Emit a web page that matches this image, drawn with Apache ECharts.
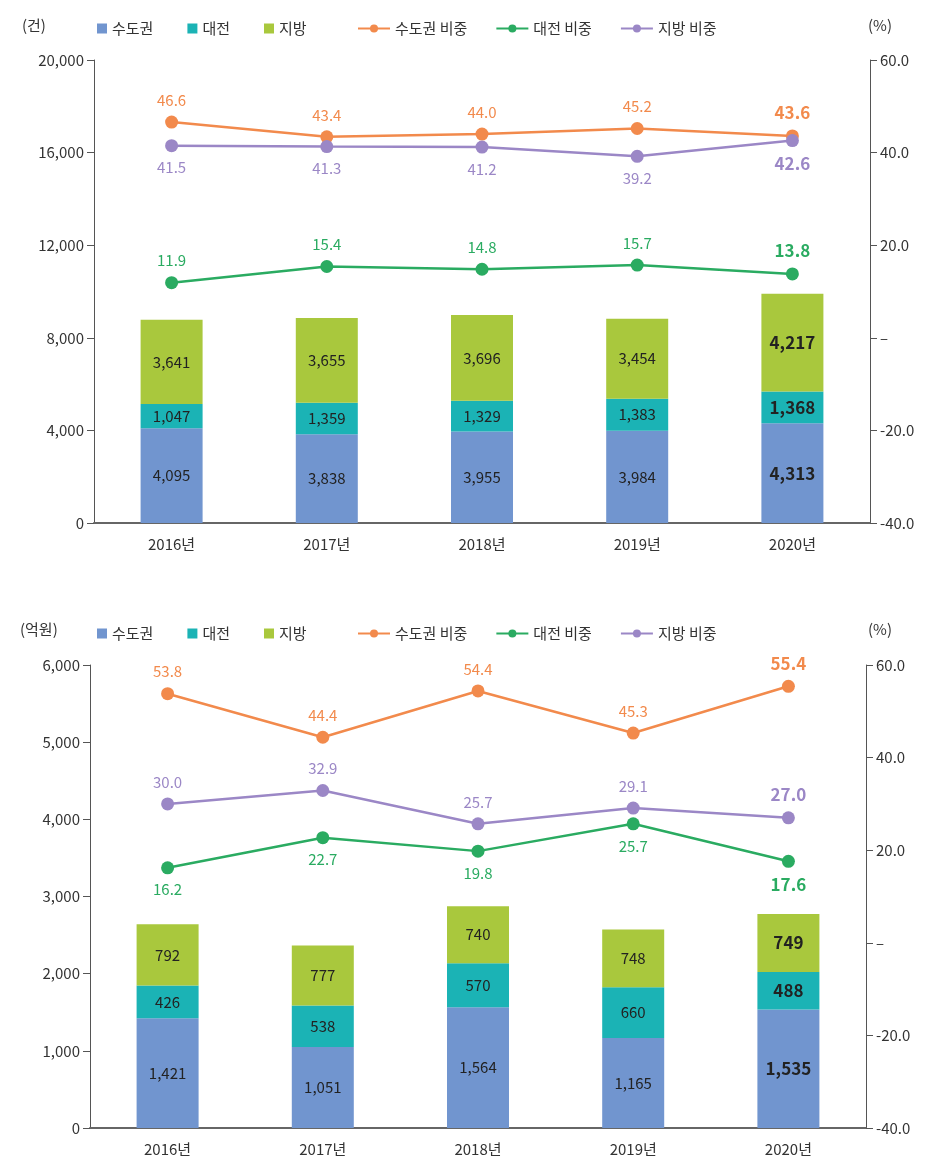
<!DOCTYPE html>
<html><head><meta charset="utf-8">
<script src="https://cdn.jsdelivr.net/npm/echarts@6/dist/echarts.min.js"></script>
<style>html,body{margin:0;padding:0;background:#fff}#c1,#c2{width:945px;height:585px}</style>
</head><body><div id="c1"></div><div id="c2"></div>
<script>
const categories = ['2016년','2017년','2018년','2019년','2020년'];
// Chart 1 (건)
const top_capital = [4095, 3838, 3955, 3984, 4313];
const top_daejeon = [1047, 1359, 1329, 1383, 1368];
const top_region = [3641, 3655, 3696, 3454, 4217];
const top_capitalShare = [46.6, 43.4, 44.0, 45.2, 43.6];
const top_daejeonShare = [11.9, 15.4, 14.8, 15.7, 13.8];
const top_regionShare = [41.5, 41.3, 41.2, 39.2, 42.6];
// Chart 2 (억원)
const bot_capital = [1421, 1051, 1564, 1165, 1535];
const bot_daejeon = [426, 538, 570, 660, 488];
const bot_region = [792, 777, 740, 748, 749];
const bot_capitalShare = [53.8, 44.4, 54.4, 45.3, 55.4];
const bot_daejeonShare = [16.2, 22.7, 19.8, 25.7, 17.6];
const bot_regionShare = [30.0, 32.9, 25.7, 29.1, 27.0];

const FONT = '"Noto Sans CJK KR", "Noto Sans", sans-serif';
const C_CAP = '#7195cf', C_DJ = '#1bb3b5', C_REG = '#a9c83d';
const L_CAP = '#f28a4c', L_DJ = '#2aab61', L_REG = '#9b87c6';

function barData(arr){
  return arr.map((v,i)=> i===4 ? {value:v, label:{fontWeight:'bold', fontSize:17}} : v);
}
function lineData(arr){
  return arr.map((v,i)=> i===4 ? {value:v, label:{fontWeight:'bold', fontSize:17}} : v);
}
function barSeries(name, arr, color){
  return {name, type:'bar', stack:'s', data:barData(arr), barWidth:62,
    itemStyle:{color},
    label:{show:true, position:'inside', color:'#222', fontSize:15, fontFamily:FONT,
      formatter:p=>p.value.toLocaleString('en-US')}};
}
function lineSeries(name, arr, color, pos){
  return {name, type:'line', yAxisIndex:1, data:lineData(arr), symbol:'circle', symbolSize:13,
    lineStyle:{color, width:2.5}, itemStyle:{color},
    label:{show:true, position:pos, distance:8, color, fontSize:15, fontFamily:FONT,
      formatter:p=>p.value.toFixed(1)}};
}
function build(cfg){
  return {
    animation:false,
    textStyle:{fontFamily:FONT},
    graphic:[
      {type:'text', left:cfg.unitLeft, top:cfg.unitTop, style:{text:cfg.unit, font:'15px '+FONT, fill:'#333'}},
      {type:'text', left:868, top:cfg.unitTop, style:{text:'(%)', font:'15px '+FONT, fill:'#333'}}
    ],
    legend:[
      {data:['수도권','대전','지방'], left:cfg.legLeft, top:cfg.legendTop, icon:'rect', itemWidth:10, itemHeight:10, itemGap:34,
        textStyle:{fontSize:15, color:'#333', fontFamily:FONT}},
      {data:['수도권 비중','대전 비중','지방 비중'], left:352, top:cfg.legendTop, itemWidth:32, itemHeight:10, itemGap:28,
        textStyle:{fontSize:15, color:'#333', fontFamily:FONT}}
    ],
    grid:{left:cfg.gl, right:cfg.gr, top:cfg.gt, bottom:cfg.gb},
    xAxis:{type:'category', data:categories,
      axisLine:{lineStyle:{color:'#666', width:2}}, axisTick:{show:false},
      axisLabel:{color:'#333', fontSize:15, margin:14, fontFamily:FONT}},
    yAxis:[
      {type:'value', min:0, max:cfg.lmax, interval:cfg.lint,
        axisLine:{show:true, lineStyle:{color:'#555'}}, axisTick:{show:true, length:7, lineStyle:{color:'#555'}},
        splitLine:{show:false},
        axisLabel:{color:'#333', fontSize:15, margin:10, fontFamily:FONT, formatter:v=>v.toLocaleString('en-US')}},
      {type:'value', min:-40, max:60, interval:20,
        axisLine:{show:true, lineStyle:{color:'#555'}}, axisTick:{show:true, length:7, lineStyle:{color:'#555'}},
        splitLine:{show:false},
        axisLabel:{color:'#333', fontSize:15, margin:10, fontFamily:FONT, formatter:v=> v===0 ? '–' : v.toFixed(1)}}
    ],
    series:[
      barSeries('수도권', cfg.cap, C_CAP),
      barSeries('대전', cfg.dj, C_DJ),
      barSeries('지방', cfg.reg, C_REG),
      lineSeries('수도권 비중', cfg.capS, L_CAP, 'top'),
      lineSeries('대전 비중', cfg.djS, L_DJ, cfg.djPos),
      lineSeries('지방 비중', cfg.regS, L_REG, cfg.regPos)
    ]
  };
}
const c1 = echarts.init(document.getElementById('c1'), null, {renderer:'canvas'});
c1.setOption(build({unit:'(건)', unitLeft:22, unitTop:18, legLeft:92, legendTop:16, gl:94, gr:75, gt:60, gb:62,
  lmax:20000, lint:4000, cap:top_capital, dj:top_daejeon, reg:top_region,
  capS:top_capitalShare, djS:top_daejeonShare, regS:top_regionShare, djPos:'top', regPos:'bottom'}));
const c2 = echarts.init(document.getElementById('c2'), null, {renderer:'canvas'});
c2.setOption(build({unit:'(억원)', unitLeft:20, unitTop:37, legLeft:92, legendTop:36, gl:90, gr:79, gt:80, gb:42,
  lmax:6000, lint:1000, cap:bot_capital, dj:bot_daejeon, reg:bot_region,
  capS:bot_capitalShare, djS:bot_daejeonShare, regS:bot_regionShare, djPos:'bottom', regPos:'top'}));
</script></body></html>
